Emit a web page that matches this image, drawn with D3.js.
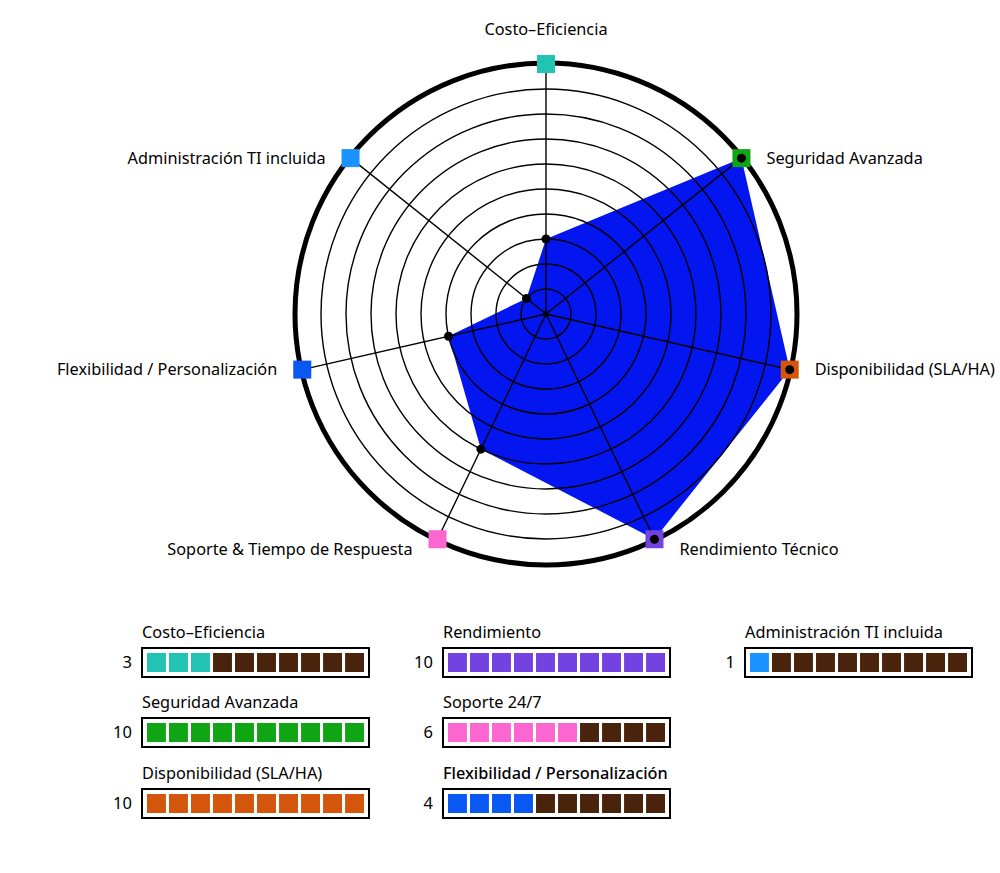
<!DOCTYPE html>
<html>
<head>
<meta charset="utf-8">
<title>Radar - Evaluación</title>
<script src="https://d3js.org/d3.v7.min.js"></script>
<style>
  body { margin: 0; background: #fff; }
  svg text { font-family: "Noto Sans", "Open Sans", sans-serif; fill: #000; }
</style>
</head>
<body>
<svg id="chart" width="1000" height="873"></svg>
<script>
// data
var axes = ["Costo–Eficiencia", "Seguridad Avanzada", "Disponibilidad (SLA/HA)", "Rendimiento Técnico",
            "Soporte & Tiempo de Respuesta", "Flexibilidad / Personalización", "Administración TI incluida"];
var scores = [3, 10, 10, 10, 6, 4, 1];
var axisColors = ["#22c3b3", "#0fa514", "#d4560c", "#7442e0", "#fb66d0", "#0a58f2", "#1a92ff"];

var legendNames = ["Costo–Eficiencia", "Seguridad Avanzada", "Disponibilidad (SLA/HA)",
                   "Rendimiento", "Soporte 24/7", "Flexibilidad / Personalización",
                   "Administración TI incluida"];
var legendScores = [3, 10, 10, 10, 6, 4, 1];
var legendColors = ["#22c3b3", "#0fa514", "#d4560c", "#7442e0", "#fb66d0", "#0a58f2", "#1a92ff"];
var emptyColor = "#4a230c";
var maxScore = 10;

var svg = d3.select("#chart");
var cx = 546, cy = 314;

var r = d3.scaleLinear().domain([0, maxScore]).range([0, 250]);
var angle = d3.scaleLinear().domain([0, axes.length]).range([0, 2 * Math.PI]);

function pt(i, v) {
  var a = angle(i);
  return [cx + r(v) * Math.sin(a), cy - r(v) * Math.cos(a)];
}

var g = svg.append("g");

// filled area
var poly = scores.map(function(v, i) { return pt(i, v); });
g.append("path")
  .attr("d", d3.line()(poly) + "Z")
  .attr("fill", "#0416f0");

// rings
g.selectAll(".ring")
  .data(d3.range(1, maxScore))
  .join("circle")
  .attr("cx", cx).attr("cy", cy)
  .attr("r", function(d) { return r(d); })
  .attr("fill", "none")
  .attr("stroke", "#000")
  .attr("stroke-width", 1.4);

// spokes
g.selectAll(".spoke")
  .data(axes)
  .join("line")
  .attr("x1", cx).attr("y1", cy)
  .attr("x2", function(d, i) { return pt(i, maxScore)[0]; })
  .attr("y2", function(d, i) { return pt(i, maxScore)[1]; })
  .attr("stroke", "#000")
  .attr("stroke-width", 1.4);

// outer ring
g.append("circle")
  .attr("cx", cx).attr("cy", cy)
  .attr("r", r(maxScore) + 1)
  .attr("fill", "none")
  .attr("stroke", "#000")
  .attr("stroke-width", 5);

// markers at the ends
g.selectAll(".marker")
  .data(axes)
  .join("rect")
  .attr("x", function(d, i) { return pt(i, maxScore)[0] - 9; })
  .attr("y", function(d, i) { return pt(i, maxScore)[1] - 9; })
  .attr("width", 18).attr("height", 18)
  .attr("fill", function(d, i) { return axisColors[i]; });

// value dots
g.selectAll(".dot")
  .data(scores)
  .join("circle")
  .attr("cx", function(d, i) { return pt(i, d)[0]; })
  .attr("cy", function(d, i) { return pt(i, d)[1]; })
  .attr("r", 4.5)
  .attr("fill", "#000");

g.append("circle").attr("cx", cx).attr("cy", cy).attr("r", 3).attr("fill", "#000");

// axis labels
g.selectAll(".lbl")
  .data(axes)
  .join("text")
  .attr("font-size", 16.3)
  .attr("x", function(d, i) {
    var p = pt(i, maxScore), s = Math.sin(angle(i));
    return s > 0.1 ? p[0] + 25 : (s < -0.1 ? p[0] - 25 : p[0]);
  })
  .attr("y", function(d, i) {
    var p = pt(i, maxScore), c = Math.cos(angle(i));
    if (c > 0.9) return p[1] - 35;
    return c < -0.6 ? p[1] + 10 : p[1];
  })
  .attr("dy", "0.35em")
  .attr("text-anchor", function(d, i) {
    var s = Math.sin(angle(i));
    return s > 0.1 ? "start" : (s < -0.1 ? "end" : "middle");
  })
  .text(function(d) { return d; });

// legend
var colX = [142, 443, 745], rowY = [648, 718, 789];
var boxW = 227, boxH = 29;
var cell = d3.scaleBand().domain(d3.range(maxScore)).range([5, boxW - 5]).paddingInner(0.14);

var items = legendNames.map(function(n, i) {
  return { name: n, score: legendScores[i], color: legendColors[i],
           x: colX[Math.floor(i / 3)], y: rowY[i % 3] };
});

var lg = svg.append("g").selectAll("g")
  .data(items)
  .join("g")
  .attr("transform", function(d) { return "translate(" + d.x + "," + d.y + ")"; });

lg.append("text")
  .attr("x", 0).attr("y", -10)
  .attr("font-size", 16.3)
  .attr("font-weight", function(d, i) { return i === 5 ? 500 : 400; })
  .text(function(d) { return d.name; });

lg.append("text")
  .attr("x", -10).attr("y", boxH / 2)
  .attr("dy", "0.35em")
  .attr("text-anchor", "end")
  .attr("font-size", 16.5)
  .text(function(d) { return d.score; });

lg.append("rect")
  .attr("width", boxW).attr("height", boxH)
  .attr("fill", "#fff")
  .attr("stroke", "#000")
  .attr("stroke-width", 2);

lg.selectAll(".cell")
  .data(function(d) {
    return d3.range(maxScore).map(function(k) { return { k: k, on: k < d.score, color: d.color }; });
  })
  .join("rect")
  .attr("x", function(c) { return cell(c.k); })
  .attr("y", 5)
  .attr("width", cell.bandwidth())
  .attr("height", boxH - 10)
  .attr("fill", function(c) { return c.on ? c.color : emptyColor; });
</script>
</body>
</html>
